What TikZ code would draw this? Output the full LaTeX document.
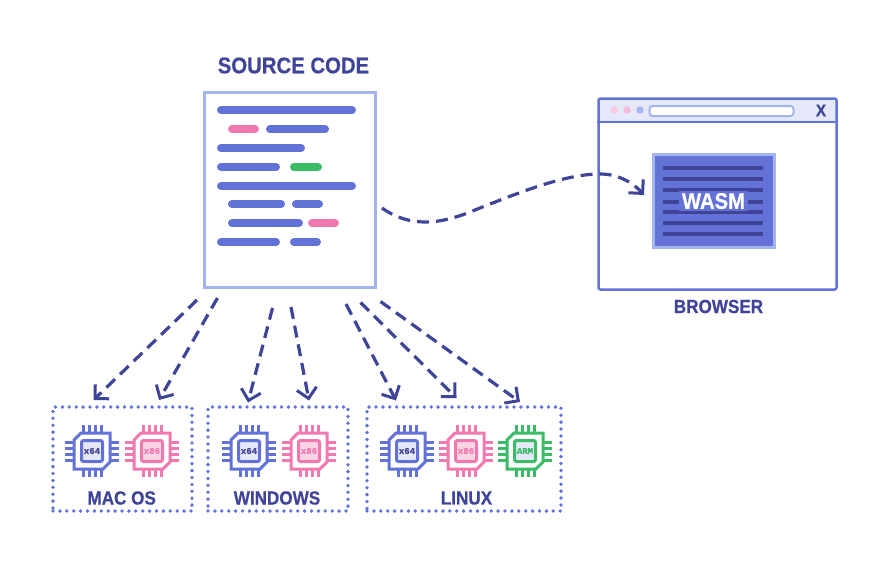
\documentclass[tikz,border=0pt]{standalone}
\usepackage{fontspec}
\setmainfont{Liberation Sans}
\newfontfamily\headfont[FakeBold=0.6,FakeStretch=0.9]{Liberation Sans Bold}
\newfontfamily\chipfont[FakeBold=0.6]{Liberation Mono Bold}
\usetikzlibrary{arrows.meta, calc}
\definecolor{navyink}{RGB}{64,68,153}
\definecolor{codeblue}{RGB}{98,114,214}
\definecolor{paleblue}{RGB}{164,180,238}
\definecolor{mistblue}{RGB}{228,232,248}
\definecolor{codepink}{RGB}{241,121,176}
\definecolor{palepink}{RGB}{250,214,228}
\definecolor{codegreen}{RGB}{60,187,102}
\tikzset{
    codeline/.style={line width=8pt, line cap=round, shorten >=4pt, shorten <=4pt},
    flow/.style={navyink, line width=3.2pt, dash pattern=on 12pt off 7pt, -{Straight Barb[length=10pt, width=20pt, line width=3pt, line cap=butt, line join=miter]}},
    platform/.style={draw=codeblue, line width=3.8pt, line cap=round, dash pattern=on 0pt off 6.9pt, minimum width=#1, minimum height=104pt},
    heading/.style={text=navyink, font=\headfont\fontsize{19}{19}\selectfont, inner sep=0pt},
    chiplabel/.style={font=\chipfont\fontsize{9}{9}\selectfont, inner sep=0pt}
}
\begin{document}
\begin{tikzpicture}[x=1pt, y=-1pt]
    \useasboundingbox (0,0) rectangle (880,571);

    % Source code
    \node[heading, font=\headfont\fontsize{22.6}{23}\selectfont] (sourcetitle) at (293.5,65.5) {SOURCE CODE};
    \node[draw=paleblue, line width=3pt, minimum width=171pt, minimum height=195pt] (source) at (290,190) {};
    \foreach \xa/\xb/\y/\col in {217/356/110/codeblue, 228/259/129/codepink, 266/329/129/codeblue,
        217/305/148/codeblue, 217/280/167/codeblue, 290/322/167/codegreen, 217/356/186/codeblue,
        228/285/204/codeblue, 292/323/204/codeblue, 228/303/223/codeblue, 308/339/223/codepink,
        217/280/242/codeblue, 290/321/242/codeblue} {
        \draw[codeline, \col] (\xa,\y) -- (\xb,\y);
    }

    % Browser
    \fill[mistblue, rounded corners=2pt] (598,99) rectangle (836,122);
    \node[draw=codeblue, line width=2.5pt, rounded corners=2pt, minimum width=238pt, minimum height=191pt] (browser) at (717.5,194) {};
    \draw[codeblue, line width=1.5pt] (browser.west |- 0,122) -- (browser.east |- 0,122);
    \foreach \x/\col in {614/codepink!40!white, 627/codepink!50!white, 640/paleblue} {
        \fill[\col] (\x,110) circle (3.7pt);
    }
    \node[draw=paleblue, fill=white, line width=2pt, rounded corners=3pt, minimum width=144pt, minimum height=10pt, inner sep=0pt] (addressbar) at (721.5,111) {};
    \node[heading, font=\headfont\fontsize{17}{17}\selectfont] (closemark) at (821,110.5) {X};
    \node[heading] (browsertitle) at (718.5,306.5) {BROWSER};

    % Wasm module
    \node[draw=paleblue, fill=codeblue, line width=3pt, minimum width=121pt, minimum height=93pt] (wasmbox) at (713.8,200.7) {};
    \foreach \y in {167.7,179,190,202,212,222.5,234} {
        \draw[navyink, line width=4pt] (663,\y) -- (763,\y);
    }
    \node[fill=codeblue, text=white, font=\headfont\fontsize{22.5}{23}\selectfont, inner xsep=3pt, inner ysep=2.5pt] (wasmlabel) at (713.5,201) {WASM};

    % Platforms
    \node[platform=139pt] (macbox) at (122.5,459) {};
    \node[platform=140pt] (winbox) at (278,459) {};
    \node[platform=194pt] (linuxbox) at (464,459) {};
    \node[heading] (mactitle) at (121.7,498) {MAC OS};
    \node[heading] (wintitle) at (277,498) {WINDOWS};
    \node[heading] (linuxtitle) at (466.5,498) {LINUX};

    % Chips
    \foreach \n/\cx/\col/\back/\lbl/\ink in {a/92/codeblue/mistblue/x64/navyink, b/152/codepink/palepink/x86/codepink,
        c/249/codeblue/mistblue/x64/navyink, d/309/codepink/palepink/x86/codepink,
        e/407/codeblue/mistblue/x64/navyink, f/466/codepink/palepink/x86/codepink, g/525/codegreen/mistblue/ARM/codegreen} {
        \foreach \o in {-9,-3,3,9} {
            \draw[\col, line width=3pt] (\cx+\o,425) -- (\cx+\o,477);
            \draw[\col, line width=3pt] (\cx-27,451+\o) -- (\cx+27,451+\o);
        }
        \filldraw[draw=\col, fill=white, line width=3pt] (\cx-11,433) -- (\cx+18,433) -- (\cx+18,462) -- (\cx+11,469)
            -- (\cx-18,469) -- (\cx-18,440) -- cycle;
        \node[draw=\col, fill=\back, line width=3pt, rounded corners=2pt, minimum size=21pt, inner sep=0pt,
            text=\ink, chiplabel] (chip\n) at (\cx,451) {\lbl};
    }

    % Builds
    \foreach \i/\sx/\sy/\ex/\ey in {1/197/300/93.5/400, 2/217.5/298/159/400, 3/272.5/308/248/402.5, 4/291/307/309/400.5,
        5/346/304/396/400.5, 6/360.5/302.5/456.5/398, 7/380.5/301.5/520/402} {
        \coordinate (from\i) at (\sx,\sy);
        \coordinate (to\i) at (\ex,\ey);
        \draw[flow] (from\i) -- (to\i);
    }

    % Wasm build
    \coordinate (fromwasm) at (382,208);
    \coordinate (towasm) at (644,195);
    \draw[flow] (fromwasm) .. controls (410,228) and (440,224) .. (470,212)
        .. controls (520,192) and (565,174) .. (600,174) .. controls (620,174) and (634,184) .. (towasm);
\end{tikzpicture}
\end{document}
